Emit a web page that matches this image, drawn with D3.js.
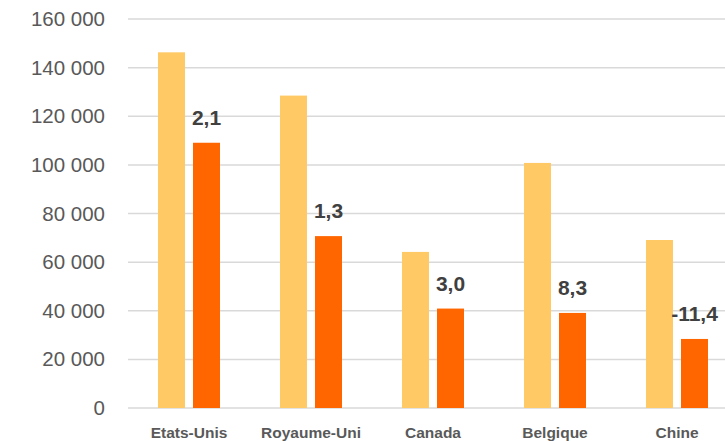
<!DOCTYPE html>
<html><head><meta charset="utf-8">
<script src="https://cdn.jsdelivr.net/npm/d3@7"></script>
<style>body{margin:0;background:#fff}svg{display:block}</style>
</head><body><svg id="c" width="725" height="441"></svg>
<script>
const categories = ["Etats-Unis","Royaume-Uni","Canada","Belgique","Chine"];
const series1 = [146300, 128500, 64200, 100800, 69100];
const series2 = [109100, 70700, 40900, 39100, 28400];
const growthLabels = ["2,1","1,3","3,0","8,3","-11,4"];
const yTicks = [0,20000,40000,60000,80000,100000,120000,140000,160000];

const svg = d3.select("#c");
const font = "'Liberation Sans', Arial, sans-serif";
const y = d3.scaleLinear().domain([0,160000]).range([408,19]);
const x0 = d3.scaleBand().domain(categories).range([128,738]).paddingInner(0.4918).paddingOuter(0.2459);
const x1 = d3.scaleBand().domain(["a","b"]).range([0,x0.bandwidth()]).paddingInner(8/35);

// grid
svg.append("g").selectAll("line").data(yTicks).join("line")
  .attr("x1",128).attr("x2",725).attr("y1",d=>y(d)).attr("y2",d=>y(d))
  .attr("stroke","#d9d9d9").attr("stroke-width",1.5);

// y tick labels
const fmt = d => d3.format(",")(d).replace(/,/g," ");
svg.append("g").selectAll("text").data(yTicks).join("text")
  .attr("x",105).attr("y",d=>y(d)+7).attr("text-anchor","end")
  .attr("font-family",font).attr("font-size",20.5).attr("fill","#595959")
  .text(fmt);

const g = svg.append("g").selectAll("g").data(categories).join("g")
  .attr("transform",c=>`translate(${x0(c)},0)`);
g.append("rect").attr("x",x1("a")).attr("width",x1.bandwidth())
  .attr("y",(c,i)=>y(series1[i])).attr("height",(c,i)=>y(0)-y(series1[i]))
  .attr("fill","#FFCA66");
g.append("rect").attr("x",x1("b")).attr("width",x1.bandwidth())
  .attr("y",(c,i)=>y(series2[i])).attr("height",(c,i)=>y(0)-y(series2[i]))
  .attr("fill","#FF6600");
g.append("text").attr("x",x1("b")+x1.bandwidth()/2)
  .attr("y",(c,i)=>y(series2[i])-18).attr("text-anchor","middle")
  .attr("font-family",font).attr("font-weight","bold").attr("font-size",21)
  .attr("fill","#404040").text((c,i)=>growthLabels[i]);

// category labels
svg.append("g").selectAll("text").data(categories).join("text")
  .attr("x",c=>x0(c)+x0.bandwidth()/2).attr("y",438).attr("text-anchor","middle")
  .attr("font-family",font).attr("font-weight","bold").attr("font-size",15.5)
  .attr("fill","#595959").text(c=>c);
</script></body></html>
